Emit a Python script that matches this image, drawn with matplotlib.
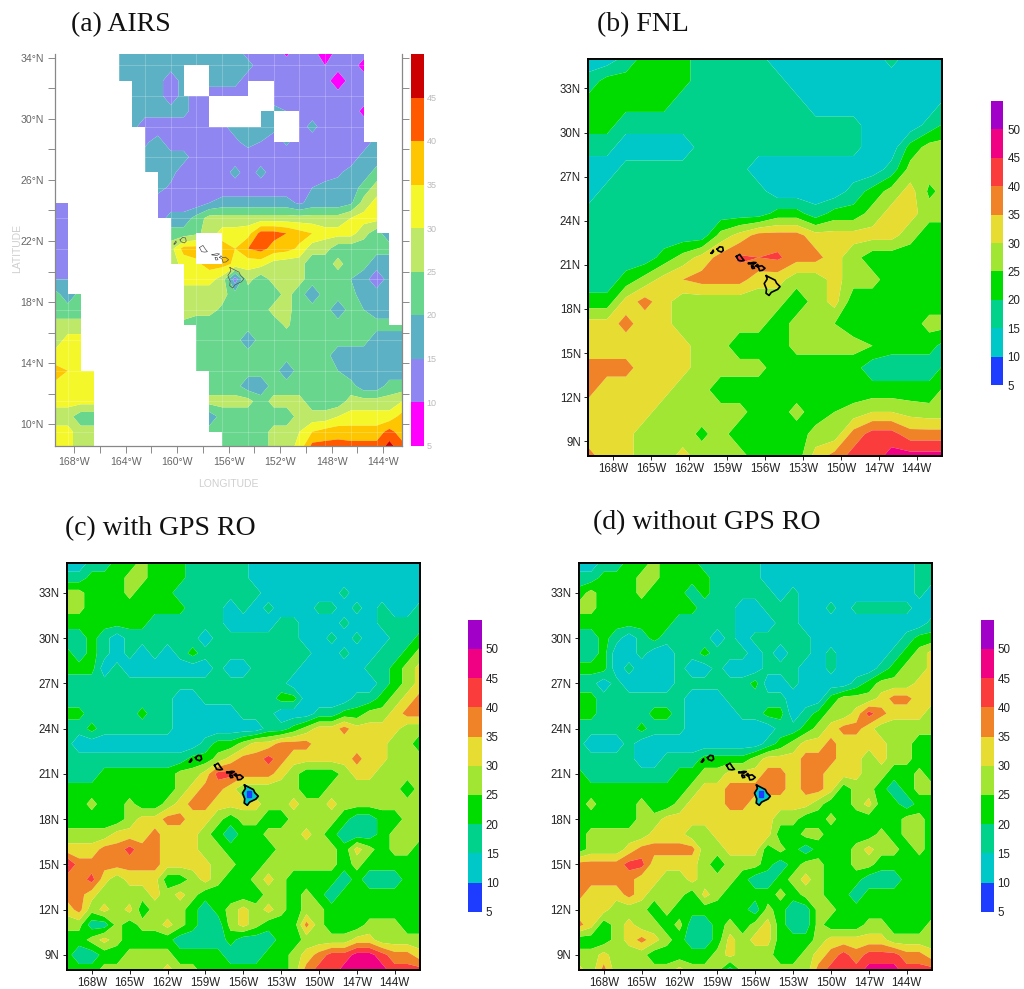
import numpy as np
import matplotlib
matplotlib.use("Agg")
import matplotlib.pyplot as plt
from matplotlib.colors import ListedColormap

W, H = 1024, 989
TICK_FONT = "Liberation Sans"
TITLE_FONT = "Liberation Serif"

# contour bands
airs_levels = [5, 10, 15, 20, 25, 30, 35, 40, 45, 50]
airs_colors = ["#ff00ff", "#8f86f2", "#5cb2c4", "#68d68c", "#bde868",
               "#f4f82a", "#fdc600", "#ff5a00", "#cc0000"]
model_levels = [5, 10, 15, 20, 25, 30, 35, 40, 45, 50, 55]
model_colors = ["#1e3cff", "#00c8c8", "#00d28c", "#00dc00", "#a0e632",
                "#e6dc32", "#f08228", "#fa3c3c", "#f00082", "#a000c8"]

airs_lon = np.arange(-169.5, -142.0, 1.0)
airs_lat = np.arange(34.5, 8.0, -1.0)
airs_values = [
    [17,17,17,17,17, 17,17,17,17,17, 17,17,17,17,17, 12,12,12,8.5,12, 11,7,11,12,12, 12,12,12],
    [17,17,17,17,17, 17,17,17,17,17, 17,17,17,17,17, 17,12,12,12,12, 10.5,10,12,12,8.5, 12,12,12],
    [17,17,17,17,17, 17,17,17,17,12, 17,17,17,17,17, 12,12,12,12,12, 12,12,7,12,12, 12,12,12],
    [17,17,17,17,17, 17,17,17,17,12, 17,12,12,12,12, 12,12,12,12,12, 12,12,12,12,12, 12,12,12],
    [17,17,17,17,17, 17,17,17,17,17, 17,12,12,12,12, 12,17,17,15,12, 12,12,12,12,9, 12,12,12],
    [17,17,17,17,17, 17,17,12,12,12, 12,12,12,14,17, 17,17,17,12,12, 17,12,12,12,12, 12,12,12],
    [17,17,17,17,17, 17,14,14,17,12, 12,12,12,12,14, 17,15,12,16,12, 12,12,12,12,12, 17,17,17],
    [17,17,17,17,17, 17,17,17,17,17, 17,12,12,12,12, 12,12,12,12,12, 12,12,12,12,17, 17,17,17],
    [17,17,17,17,17, 17,17,17,17,17, 12,12,12,12,17, 12,17,12,12,12, 12,12,14,17,17, 22,22,22],
    [17,17,17,17,17, 17,17,17,17,14, 12,12,12,12,12, 12,12,12,12,12, 15,17,17,17,22, 27,27,27],
    [12,12,12,12,12, 12,12,12,12,12, 12,12,15,17,17, 17,17,17,17,14, 17,17,17,19,27, 32,32,32],
    [12,12,12,12,12, 12,12,12,12,17, 17,22,27,27,27, 27,27,27,27,27, 27,27,27,30,32, 32,32,32],
    [12,12,12,12,12, 12,12,12,22,22, 22,24,27,32,32, 33,42,42,40,37, 35,32,32,32,27, 22,17,17],
    [12,12,12,12,12, 12,12,12,22,28, 37,37,32,38,35, 40,42,38,37,34, 27,27,22,22,22, 22,22,22],
    [12,12,12,12,12, 12,12,12,22,27, 32,34,37,37,34, 32,32,28,27,27, 22,22,27,22,22, 17,17,17],
    [15,15,22,22,22, 22,22,22,22,27, 32,32,32,28,12, 27,22,27,27,27, 22,22,22,20,17, 12,17,17],
    [22,17,22,22,22, 22,22,22,22,27, 27,27,27,27,22, 22,22,22,27,22, 17,22,22,22,17, 17,17,17],
    [22,22,22,22,22, 22,22,22,22,27, 27,27,27,24,22, 22,22,27,27,22, 22,22,17,22,20, 17,17,17],
    [27,27,27,27,27, 22,22,22,22,24, 24,22,22,22,22, 22,22,22,26,22, 22,22,22,22,22, 22,22,22],
    [27,32,32,27,27, 22,22,22,22,22, 22,22,22,22,22, 17,22,22,22,22, 22,22,22,22,22, 17,17,17],
    [32,32,32,32,32, 22,22,22,22,22, 22,22,22,22,22, 22,22,22,22,22, 22,22,17,17,17, 17,17,17],
    [37,35,32,32,32, 22,22,22,22,22, 22,22,22,22,22, 22,22,22,17,22, 22,22,20,17,17, 17,17,17],
    [34,32,32,32,32, 22,22,22,22,22, 22,22,22,22,22, 17,17,22,22,22, 22,22,22,22,17, 17,22,22],
    [32,32,32,32,32, 27,27,27,27,27, 27,27,27,27,27, 27,22,27,27,27, 22,22,22,27,27, 27,27,30],
    [27,27,22,22,22, 22,22,22,22,22, 22,22,17,22,22, 22,22,22,22,27, 27,27,30,32,32, 32,32,37],
    [32,32,27,27,27, 22,22,22,22,22, 22,22,22,22,22, 22,22,27,27,30, 35,37,38,37,37, 37,42,37],
    [32,32,27,27,27, 22,22,22,22,22, 22,22,22,22,22, 22,22,27,27,32, 42,42,42,42,42, 42,47,42],
]
# swath gaps, one character per grid box, # is no data
airs_missing = [
    "#####...................###",
    "#####.....##............###",
    "######....##...##.......###",
    "######......#####.......###",
    "######......####.##.....###",
    "#######..........##.....###",
    "#######..................##",
    "#######..................##",
    "########.................##",
    "########.................##",
    ".#######.................##",
    ".########................##",
    ".########..##.............#",
    ".########..##.............#",
    ".#########................#",
    ".#########................#",
    "..########................#",
    "..########................#",
    "..#########................",
    "..#########................",
    "..#########................",
    "...#########...............",
    "...#########...............",
    "...#########...............",
    "...#########...............",
    "...##########..............",
]

# (b) FNL, coarse analysis
fnl_lon = np.arange(-170.0, -141.0, 1.5)
fnl_lat = np.arange(35.0, 7.0, -1.5)
fnl_values = [
    [12,12,17,22,22, 22,17,17,17,17, 12,12,12,12,12, 12,17,12,12,12],
    [17,22,22,22,22, 22,17,17,17,17, 17,12,12,12,12, 12,12,12,12,12],
    [22,22,22,22,22, 17,17,17,17,17, 17,17,12,12,12, 12,12,12,12,17],
    [22,22,17,17,17, 17,17,17,17,17, 17,17,17,17,17, 12,12,12,17,22],
    [17,17,12,12,12, 12,17,17,17,17, 17,17,17,17,17, 12,12,22,27,27],
    [12,12,17,17,17, 17,17,17,17,12, 12,12,12,12,12, 12,17,27,27,27],
    [12,17,17,17,17, 17,17,17,17,17, 12,12,12,12,17, 22,27,32,24,27],
    [17,17,17,17,17, 17,17,17,17,17, 22,22,17,22,22, 27,32,32,27,27],
    [17,17,17,17,17, 17,17,27,32,37, 37,37,32,32,32, 32,32,27,22,22],
    [17,17,17,17,22, 27,32,37,41,40, 41,37,37,32,27, 22,22,22,22,22],
    [17,17,22,27,32, 35,37,37,37,32, 32,27,27,32,27, 27,22,22,22,22],
    [22,22,32,37,32, 27,27,27,27,27, 27,22,27,32,22, 22,22,22,22,22],
    [32,32,37,32,32, 27,27,27,27,27, 22,27,27,25,22, 22,22,22,27,27],
    [32,32,32,32,32, 32,27,27,22,22, 22,27,27,27,27, 25,22,22,22,17],
    [37,37,37,32,32, 32,27,27,27,27, 22,22,22,22,22, 17,17,17,17,22],
    [37,32,32,32,32, 27,27,22,22,22, 22,22,22,22,22, 22,22,22,22,27],
    [32,32,32,32,27, 27,27,27,27,22, 22,27,22,25,27, 30,30,28,27,27],
    [32,32,32,27,27, 27,24,27,22,22, 22,22,27,27,37, 42,42,37,37,37],
    [37,32,32,27,27, 32,27,27,27,22, 22,22,32,37,42, 42,47,47,47,47],
]

run_lon = np.arange(-170.0, -141.0, 1.0)
run_lat = np.arange(35.0, 7.0, -1.0)
with_gps = [
    [12,12,17,17,22, 22,27,22,22,22, 17,17,17,17,17, 12,12,12,12,12, 12,12,12,12,12, 12,12,12,12],
    [17,17,22,22,22, 27,27,22,22,22, 17,17,17,17,17, 12,12,12,12,12, 12,12,12,12,12, 12,12,12,12],
    [27,27,22,22,22, 27,22,22,22,17, 17,17,17,17,17, 17,12,12,12,12, 12,12,17,12,12, 12,12,12,12],
    [27,27,22,22,22, 22,22,22,22,22, 17,17,17,12,17, 12,17,12,12,12, 17,17,12,17,12, 17,12,12,17],
    [22,22,22,22,22, 22,22,17,17,17, 17,17,17,12,12, 12,12,17,17,12, 12,12,17,12,12, 17,17,17,17],
    [17,17,22,17,12, 17,17,17,17,17, 17,12,17,17,17, 17,17,17,17,12, 12,17,12,17,12, 12,17,17,22],
    [22,17,22,17,12, 17,12,17,12,17, 22,17,17,17,17, 17,17,17,17,17, 12,12,17,12,12, 17,17,22,27],
    [22,22,22,12,17, 12,12,12,12,12, 12,12,17,12,12, 17,17,17,17,12, 12,12,12,12,17, 17,22,27,32],
    [17,17,17,17,17, 17,17,17,17,17, 17,17,17,17,17, 17,17,17,12,12, 12,12,12,12,12, 17,22,27,32],
    [17,17,17,17,17, 17,17,17,17,12, 12,17,17,17,17, 17,17,22,22,12, 12,12,12,17,17, 22,27,32,37],
    [22,22,17,17,17, 17,22,17,17,12, 12,12,12,12,17, 17,17,12,12,12, 17,17,22,22,27, 27,32,37,37],
    [17,17,22,17,17, 17,17,17,17,12, 12,12,12,12,12, 12,17,17,22,27, 32,32,37,32,32, 32,32,27,27],
    [17,12,12,12,12, 12,12,12,12,12, 12,17,22,22,27, 32,32,37,37,37, 32,32,32,32,32, 32,27,27,22],
    [17,17,17,17,17, 17,17,17,17,17, 22,22,27,32,37, 37,42,37,32,32, 32,32,32,37,32, 32,27,27,27],
    [17,17,17,22,22, 22,22,22,22,27, 27,32,42,42,37, 37,37,32,27,22, 22,22,27,32,32, 27,27,27,27],
    [22,22,22,22,22, 22,22,22,22,27, 32,37,37,32,27, 27,27,27,27,22, 22,27,27,27,27, 27,27,22,27],
    [22,22,27,22,22, 27,22,22,27,32, 37,37,32,32,32, 32,27,27,32,27, 27,32,27,27,27, 27,27,27,27],
    [22,22,22,22,22, 27,32,32,37,37, 32,32,27,22,27, 27,22,22,27,27, 27,27,22,17,17, 22,22,27,27],
    [27,27,27,27,32, 32,32,37,32,32, 32,27,22,17,22, 22,27,27,27,32, 27,22,17,17,17, 22,27,27,27],
    [32,32,32,37,37, 42,37,37,32,32, 32,27,27,22,22, 22,22,27,27,27, 27,27,22,32,27, 22,27,27,22],
    [47,37,37,37,37, 37,37,37,32,32, 32,32,27,27,22, 22,27,27,27,27, 27,27,22,27,22, 22,22,22,22],
    [37,37,42,32,27, 32,32,32,22,22, 27,32,27,22,22, 27,32,27,22,22, 22,22,17,22,17, 17,17,22,22],
    [37,37,32,27,27, 27,27,32,27,32, 27,22,22,22,22, 22,27,27,22,27, 22,17,22,22,22, 22,22,22,22],
    [32,37,27,32,27, 32,22,27,27,27, 22,17,22,27,32, 27,32,27,22,27, 27,22,22,22,22, 22,22,22,22],
    [27,27,17,17,27, 22,27,27,32,27, 22,17,17,27,32, 27,22,22,22,37, 27,22,22,22,27, 27,27,22,22],
    [22,22,27,32,27, 22,22,22,22,17, 17,17,17,22,17, 17,17,22,22,27, 27,27,27,32,32, 27,27,27,27],
    [22,17,17,22,22, 27,27,27,27,22, 22,22,22,17,17, 17,22,22,27,32, 37,42,42,47,47, 42,37,37,32],
    [22,22,22,27,27, 27,27,27,32,27, 27,22,22,22,22, 22,22,22,27,37, 42,42,47,47,47, 47,42,42,42],
]
without_gps = [
    [12,12,17,17,22, 22,27,22,22,22, 17,17,17,17,17, 12,12,12,12,12, 12,12,12,12,12, 12,12,17,17],
    [17,17,22,22,22, 27,27,22,22,22, 22,17,17,17,17, 12,12,12,12,12, 12,12,12,12,12, 12,12,17,17],
    [22,27,22,22,22, 27,22,22,22,17, 22,17,17,17,17, 17,12,17,12,12, 12,12,12,12,12, 12,12,17,12],
    [27,27,22,22,22, 22,22,22,22,22, 17,17,17,12,12, 17,17,17,12,12, 17,12,17,17,17, 17,17,12,12],
    [22,22,22,22,22, 22,22,22,17,17, 17,17,17,12,12, 12,17,17,12,12, 12,12,12,12,12, 12,12,12,17],
    [17,17,22,17,12, 17,22,17,17,17, 17,12,17,12,17, 17,17,17,17,12, 12,12,12,12,12, 12,17,22,22],
    [17,17,22,12,12, 17,12,12,17,17, 22,17,17,17,12, 17,12,17,17,12, 17,12,12,12,12, 17,22,27,32],
    [22,22,22,12,17, 12,12,12,17,12, 12,17,12,12,12, 17,17,17,12,12, 17,12,12,12,17, 22,27,27,32],
    [17,17,12,17,12, 12,12,12,17,17, 17,17,17,17,22, 12,12,17,12,12, 12,12,17,22,27, 27,27,32,32],
    [22,22,17,17,17, 17,17,17,17,12, 12,12,17,17,17, 17,17,12,12,12, 22,27,27,27,32, 37,37,32,32],
    [22,22,17,17,17, 17,22,22,17,12, 12,12,12,17,17, 22,22,12,17,22, 27,27,32,42,37, 32,32,32,27],
    [17,17,17,17,17, 22,17,17,17,12, 12,12,12,12,12, 12,17,17,22,27, 32,37,37,32,27, 27,27,27,27],
    [17,12,12,12,17, 12,12,12,12,12, 12,12,12,12,12, 17,22,27,32,32, 37,32,32,32,32, 27,27,22,22],
    [17,17,17,17,17, 12,12,17,17,17, 22,22,22,22,27, 32,32,32,37,37, 37,32,32,27,32, 27,27,22,22],
    [22,17,17,17,17, 17,17,17,22,22, 27,27,32,32,32, 37,37,32,37,37, 32,32,32,27,27, 22,22,27,22],
    [22,22,22,22,22, 22,22,22,22,27, 32,32,37,37,37, 37,37,32,37,37, 32,22,27,27,22, 17,22,27,27],
    [22,27,22,22,22, 27,22,22,27,32, 32,32,37,37,32, 32,32,32,32,27, 22,22,27,32,22, 22,17,22,22],
    [22,22,22,22,22, 27,27,32,32,32, 32,32,32,32,32, 32,27,27,22,22, 27,22,22,22,22, 22,27,27,22],
    [22,27,27,27,27, 27,32,32,32,27, 27,32,32,32,32, 32,22,22,27,27, 22,22,22,22,27, 22,27,27,22],
    [22,27,27,27,32, 37,37,37,37,37, 27,27,32,32,32, 22,27,22,17,22, 22,22,27,32,27, 27,22,27,22],
    [37,37,37,37,42, 42,32,32,32,32, 27,22,27,27,27, 22,17,22,27,27, 22,22,27,27,22, 22,22,22,22],
    [37,37,37,37,37, 32,32,27,27,32, 27,27,27,22,17, 17,22,27,32,27, 22,22,22,17,17, 17,22,22,22],
    [37,32,32,32,37, 32,27,27,27,22, 32,27,22,22,22, 22,27,22,27,27, 22,22,17,22,22, 22,22,22,22],
    [32,32,32,27,27, 27,22,27,22,22, 22,22,22,22,17, 27,22,17,17,27, 27,22,22,22,22, 22,22,22,22],
    [37,32,22,27,32, 27,27,22,27,17, 17,22,27,22,27, 32,22,17,17,27, 22,22,22,27,27, 22,22,22,27],
    [22,22,22,27,32, 37,32,27,22,17, 17,22,32,27,32, 32,22,22,22,27, 32,32,32,32,32, 27,27,27,27],
    [27,27,32,27,27, 27,22,22,22,22, 22,27,32,27,27, 27,22,22,27,32, 37,42,37,42,42, 42,37,37,32],
    [32,27,37,27,27, 27,27,27,32,27, 27,27,17,27,27, 27,27,27,27,37, 42,42,42,47,47, 47,42,42,42],
]

# Hawaiian islands outline, lon/lat
islands = [
    ([-155.9,-155.6,-155.2,-155.08,-154.81,-155.0,-155.5,-155.68,-155.92,-155.88,-156.06,-155.83,-155.9],
     [20.26,20.13,19.96,19.75,19.52,19.33,19.13,18.92,19.07,19.35,19.73,20.03,20.26]),
    ([-156.7,-156.6,-156.47,-156.25,-156.0,-156.2,-156.43,-156.5,-156.7],
     [20.93,21.03,20.9,20.94,20.77,20.63,20.6,20.8,20.93]),
    ([-157.3,-156.9,-156.71,-156.9,-157.3,-157.3],
     [21.1,21.17,21.15,21.05,21.08,21.1]),
    ([-157.05,-156.9,-156.83,-157.0,-157.05],
     [20.9,20.92,20.77,20.75,20.9]),
    ([-158.27,-158.0,-157.8,-157.65,-157.85,-158.1,-158.27],
     [21.57,21.71,21.45,21.3,21.27,21.3,21.57]),
    ([-159.78,-159.58,-159.35,-159.3,-159.45,-159.7,-159.78],
     [22.07,22.23,22.2,21.98,21.87,21.95,22.07]),
    ([-160.25,-160.1,-160.07,-160.2,-160.25],
     [21.8,22.0,21.9,21.78,21.8]),
]
# cold core over the Big Island in the model runs
core_lon = [-155.72,-155.42,-155.42,-155.72]
core_lat = [19.85,19.85,19.45,19.45]

lon_ticks = [-168, -165, -162, -159, -156, -153, -150, -147, -144]
lon_labels = ["168W", "165W", "162W", "159W", "156W", "153W", "150W", "147W", "144W"]
lat_ticks = [9, 12, 15, 18, 21, 24, 27, 30, 33]
lat_labels = ["9N", "12N", "15N", "18N", "21N", "24N", "27N", "30N", "33N"]
airs_lon_ticks = [-168, -166, -164, -162, -160, -158, -156, -154, -152, -150, -148, -146, -144]
airs_lon_labels = ["168°W", "", "164°W", "", "160°W", "", "156°W", "", "152°W", "", "148°W", "", "144°W"]
airs_lat_ticks = [10, 12, 14, 16, 18, 20, 22, 24, 26, 28, 30, 32, 34]
airs_lat_labels = ["10°N", "", "14°N", "", "18°N", "", "22°N", "", "26°N", "", "30°N", "", "34°N"]

titles = ["(a) AIRS", "(b) FNL", "(c) with GPS RO", "(d) without GPS RO"]


def px_axes(fig, left, top, right, bottom):
    return fig.add_axes([left / W, 1 - bottom / H, (right - left) / W, (bottom - top) / H])


def model_panel(fig, box, cbar_box, lon, lat, values, filled_island=False):
    ax = px_axes(fig, *box)
    cf = ax.contourf(lon, lat, np.array(values, dtype=float), levels=model_levels,
                     colors=model_colors, antialiased=True)
    ax.set_xlim(-170, -142)
    ax.set_ylim(8, 35)
    ax.set_xticks(lon_ticks)
    ax.set_xticklabels(lon_labels)
    ax.set_yticks(lat_ticks)
    ax.set_yticklabels(lat_labels)
    ax.tick_params(length=3, width=0.7, pad=2, labelsize=8.3, colors="#222222")
    for lab in ax.get_xticklabels() + ax.get_yticklabels():
        lab.set_family(TICK_FONT)
    for sp in ax.spines.values():
        sp.set_linewidth(1.4)
    if filled_island:
        ax.fill(islands[0][0], islands[0][1], color=model_colors[1], zorder=3)
        ax.fill(core_lon, core_lat, color=model_colors[0], zorder=3)
    for xs, ys in islands:
        ax.plot(xs, ys, color="black", lw=1.2, zorder=4)
    cax = px_axes(fig, *cbar_box)
    cb = fig.colorbar(cf, cax=cax, ticks=model_levels[:-1])
    cb.outline.set_visible(False)
    cax.tick_params(length=0, pad=3, labelsize=8.3, labelcolor="#222222")
    for lab in cax.get_yticklabels():
        lab.set_family(TICK_FONT)
    return ax


fig = plt.figure(figsize=(W / 100, H / 100), dpi=100)

# panel a
ax = px_axes(fig, 55, 54, 402.3, 445.5)
cf = ax.contourf(airs_lon, airs_lat, np.array(airs_values, dtype=float), levels=airs_levels,
                 colors=airs_colors, antialiased=True)
missing = np.array([[c == "#" for c in row] for row in airs_missing], dtype=float)
missing = np.ma.masked_equal(missing, 0)
ax.pcolormesh(airs_lon, airs_lat, missing, cmap=ListedColormap(["white"]), zorder=2)
for x in airs_lon[1::2]:
    ax.axvline(x, color="white", lw=0.6, alpha=0.25, zorder=1.5)
for y in airs_lat[1::2]:
    ax.axhline(y, color="white", lw=0.6, alpha=0.25, zorder=1.5)
ax.set_xlim(-169.5, -142.5)
ax.set_ylim(8.6, 34.25)
ax.set_xticks(airs_lon_ticks)
ax.set_xticklabels(airs_lon_labels)
ax.set_yticks(airs_lat_ticks)
ax.set_yticklabels(airs_lat_labels)
ax.tick_params(axis="both", length=5, width=0.6, pad=3, labelsize=7.6,
               color="#777777", labelcolor="#666666")
ax.tick_params(axis="y", right=True)
for lab in ax.get_xticklabels() + ax.get_yticklabels():
    lab.set_family(TICK_FONT)
ax.spines["top"].set_visible(False)
for name in ["left", "bottom", "right"]:
    ax.spines[name].set_color("#888888")
    ax.spines[name].set_linewidth(0.9)
for xs, ys in islands:
    ax.plot(xs, ys, color="#555555", lw=0.5, zorder=3)
cax = px_axes(fig, 411, 54, 424, 445.5)
cb = fig.colorbar(cf, cax=cax, ticks=airs_levels[:-1])
cb.outline.set_visible(False)
cax.tick_params(length=0, pad=2, labelsize=6.5, labelcolor="#bbbbbb")
for lab in cax.get_yticklabels():
    lab.set_family(TICK_FONT)
fig.text(17 / W, 1 - 249 / H, "LATITUDE", rotation=90, color="#cfcfcf", fontsize=7.5,
         family=TICK_FONT, ha="center", va="center")
fig.text(228 / W, 1 - 484 / H, "LONGITUDE", color="#cfcfcf", fontsize=7.5,
         family=TICK_FONT, ha="center", va="center")

model_panel(fig, (588, 59, 942, 456), (990.7, 101, 1003.3, 385), fnl_lon, fnl_lat, fnl_values)
model_panel(fig, (66.5, 562.7, 420, 970), (468.3, 619.7, 481.7, 911.7), run_lon, run_lat, with_gps, True)
model_panel(fig, (578.5, 562.7, 932, 970), (980.5, 619.7, 993.5, 911.7), run_lon, run_lat, without_gps, True)

# titles
for txt, x, y in zip(titles, [71, 597, 65, 593], [31, 31, 535, 529]):
    fig.text(x / W, 1 - y / H, txt, fontsize=20, family=TITLE_FONT, color="#111111",
             ha="left", va="baseline")

plt.savefig("out.png", dpi=100)
